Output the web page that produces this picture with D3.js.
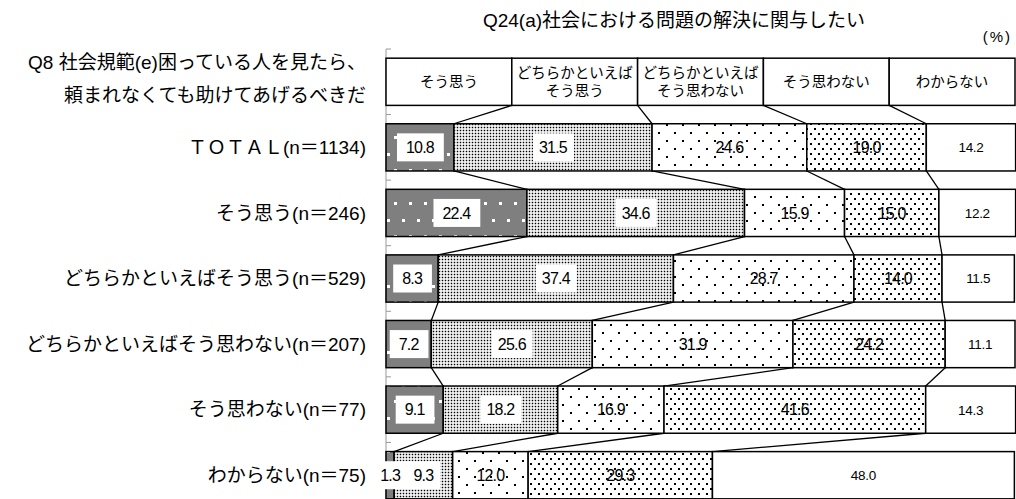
<!DOCTYPE html>
<html>
<head>
<meta charset="utf-8">
<script src="https://cdn.jsdelivr.net/npm/d3@7"></script>
<style>
  body { margin: 0; background: #fff; }
  text { font-family: "Liberation Sans", "Noto Sans CJK JP", sans-serif; fill: #000; }
</style>
</head>
<body>
<svg id="chart" width="1016" height="499"></svg>
<script>
// ---- data ----
const chartTitle = "Q24(a)社会における問題の解決に関与したい";
const unitLabel = "(%)";
const rowHeading = ["Q8 社会規範(e)困っている人を見たら、", "頼まれなくても助けてあげるべきだ"];
const seriesKeys = ["sou", "yaSou", "yaNai", "nai", "wakaranai"];
const seriesNames = [
  ["そう思う"],
  ["どちらかといえば", "そう思う"],
  ["どちらかといえば", "そう思わない"],
  ["そう思わない"],
  ["わからない"]
];
const rowLabels = [
  "ＴＯＴＡＬ(n＝1134)",
  "そう思う(n＝246)",
  "どちらかといえばそう思う(n＝529)",
  "どちらかといえばそう思わない(n＝207)",
  "そう思わない(n＝77)",
  "わからない(n＝75)"
];
const valuesSou       = [10.8, 22.4,  8.3,  7.2,  9.1,  1.3];
const valuesYaSou     = [31.5, 34.6, 37.4, 25.6, 18.2,  9.3];
const valuesYaNai     = [24.6, 15.9, 28.7, 31.9, 16.9, 12.0];
const valuesNai       = [19.0, 15.0, 14.0, 24.2, 41.6, 29.3];
const valuesWakaranai = [14.2, 12.2, 11.5, 11.1, 14.3, 48.0];

// ---- table for the stack layout ----
const seriesValues = [valuesSou, valuesYaSou, valuesYaNai, valuesNai, valuesWakaranai];
const table = rowLabels.map((label, i) => {
  const row = { label };
  seriesKeys.forEach((k, s) => { row[k] = seriesValues[s][i]; });
  return row;
});
const stacked = d3.stack().keys(seriesKeys)(table);

// ---- scales ----
const svg = d3.select("#chart");
const HEADER = "__header__";
const x = d3.scaleLinear().domain([0, 100]).range([386, 1015]);
const y = d3.scaleBand()
  .domain([HEADER, ...rowLabels])
  .range([49, 508])
  .paddingInner(0.28)
  .paddingOuter(0.14);
const bw = y.bandwidth();

// ---- fill patterns ----
const defs = svg.append("defs");
function pattern(id, w, h, bg, dots, dotColor, size, crisp) {
  const p = defs.append("pattern").attr("id", id)
    .attr("patternUnits", "userSpaceOnUse").attr("width", w).attr("height", h);
  p.append("rect").attr("width", w).attr("height", h).attr("fill", bg);
  dots.forEach(([dx, dy]) => {
    const r = p.append("rect").attr("x", dx).attr("y", dy)
      .attr("width", size).attr("height", size).attr("fill", dotColor);
    if (crisp) r.attr("shape-rendering", "crispEdges");
  });
}
pattern("pSou", 15, 33, "#7f7f7f", [[4, 4], [11.5, 20.5]], "#fff", 3, true);
pattern("pYaSou", 3, 3, "#fff", [[0.75, 0.75]], "#000", 1.5, false);
pattern("pYaNai", 16, 16, "#fff", [[2, 4], [10, 12]], "#000", 1.6, true);
pattern("pNai", 8, 10, "#fff", [[2, 3], [6, 8]], "#000", 1.6, true);
const fills = ["url(#pSou)", "url(#pYaSou)", "url(#pYaNai)", "url(#pNai)", "#fff"];

// ---- titles ----
svg.append("text").attr("x", 674).attr("y", 27)
  .attr("text-anchor", "middle").attr("font-size", 19).text(chartTitle);
svg.append("text").attr("x", 1012).attr("y", 42)
  .attr("text-anchor", "end").attr("font-size", 15).attr("letter-spacing", 2).text(unitLabel);
rowHeading.forEach((t, i) => {
  svg.append("text").attr("x", 366).attr("y", 69 + i * 33)
    .attr("text-anchor", "end").attr("font-size", 19).text(t);
});

// ---- category axis on the left edge ----
const axisG = svg.append("g");
axisG.append("line")
  .attr("x1", x(0)).attr("x2", x(0))
  .attr("y1", y.range()[0]).attr("y2", y.range()[1])
  .attr("stroke", "#999").attr("stroke-width", 1);
const bounds = y.domain().map((d, i) => y.range()[0] + i * y.step());
axisG.selectAll("line.tick").data(bounds).join("line").attr("class", "tick")
  .attr("x1", x(0)).attr("x2", x(0) + 5)
  .attr("y1", d => d).attr("y2", d => d)
  .attr("stroke", "#999").attr("stroke-width", 1);

// ---- row labels ----
svg.append("g").selectAll("text").data(rowLabels).join("text")
  .attr("x", 366).attr("y", d => y(d) + bw / 2)
  .attr("dy", "0.36em").attr("text-anchor", "end").attr("font-size", 19)
  .text(d => d);

// ---- header boxes (legend) ----
const headG = svg.append("g");
seriesNames.forEach((lines, s) => {
  const x0 = x(s * 20), x1 = x((s + 1) * 20);
  headG.append("rect").attr("x", x0).attr("y", y(HEADER))
    .attr("width", x1 - x0).attr("height", bw)
    .attr("fill", "#fff").attr("stroke", "#000").attr("stroke-width", 1.5);
  const cy = y(HEADER) + bw / 2;
  lines.forEach((t, j) => {
    headG.append("text").attr("x", (x0 + x1) / 2)
      .attr("y", cy + (j - (lines.length - 1) / 2) * 18)
      .attr("dy", "0.36em").attr("text-anchor", "middle").attr("font-size", 14.5)
      .text(t);
  });
});

// ---- connector lines between category boundaries ----
const connG = svg.append("g").attr("stroke", "#000").attr("stroke-width", 1.3);
for (let k = 0; k < 4; k++) {
  const layer = stacked[k];
  connG.append("line")
    .attr("x1", x((k + 1) * 20)).attr("y1", y(HEADER) + bw)
    .attr("x2", x(layer[0][1])).attr("y2", y(rowLabels[0]));
  for (let i = 0; i < rowLabels.length - 1; i++) {
    connG.append("line")
      .attr("x1", x(layer[i][1])).attr("y1", y(rowLabels[i]) + bw)
      .attr("x2", x(layer[i + 1][1])).attr("y2", y(rowLabels[i + 1]));
  }
}

// ---- stacked bars ----
const barG = svg.append("g");
stacked.forEach((layer, s) => {
  barG.append("g").selectAll("rect").data(layer).join("rect")
    .attr("x", d => x(d[0])).attr("y", d => y(d.data.label))
    .attr("width", d => x(d[1]) - x(d[0])).attr("height", bw)
    .attr("fill", fills[s]).attr("stroke", "#000").attr("stroke-width", 1.5);
});

// ---- value labels ----
const labG = svg.append("g");
stacked.forEach((layer, s) => {
  layer.forEach(d => {
    const v = d.data[seriesKeys[s]];
    const cx = (x(d[0]) + x(d[1])) / 2;
    const cy = y(d.data.label) + bw / 2;
    const small = s === 4;
    const t = labG.append("text").attr("x", cx).attr("y", cy)
      .attr("dy", "0.36em").attr("text-anchor", "middle")
      .attr("font-size", small ? 13.5 : 16)
      .attr("letter-spacing", small ? -0.3 : -0.8)
      .text(v.toFixed(1));
    if (s < 2) {
      const bb = t.node().getBBox();
      const pad = s === 0 ? 9 : 6;
      labG.insert("rect", () => t.node())
        .attr("x", bb.x - pad).attr("y", cy - 14)
        .attr("width", bb.width + pad * 2).attr("height", 28)
        .attr("fill", "#fff");
    }
  });
});
</script>
</body>
</html>
